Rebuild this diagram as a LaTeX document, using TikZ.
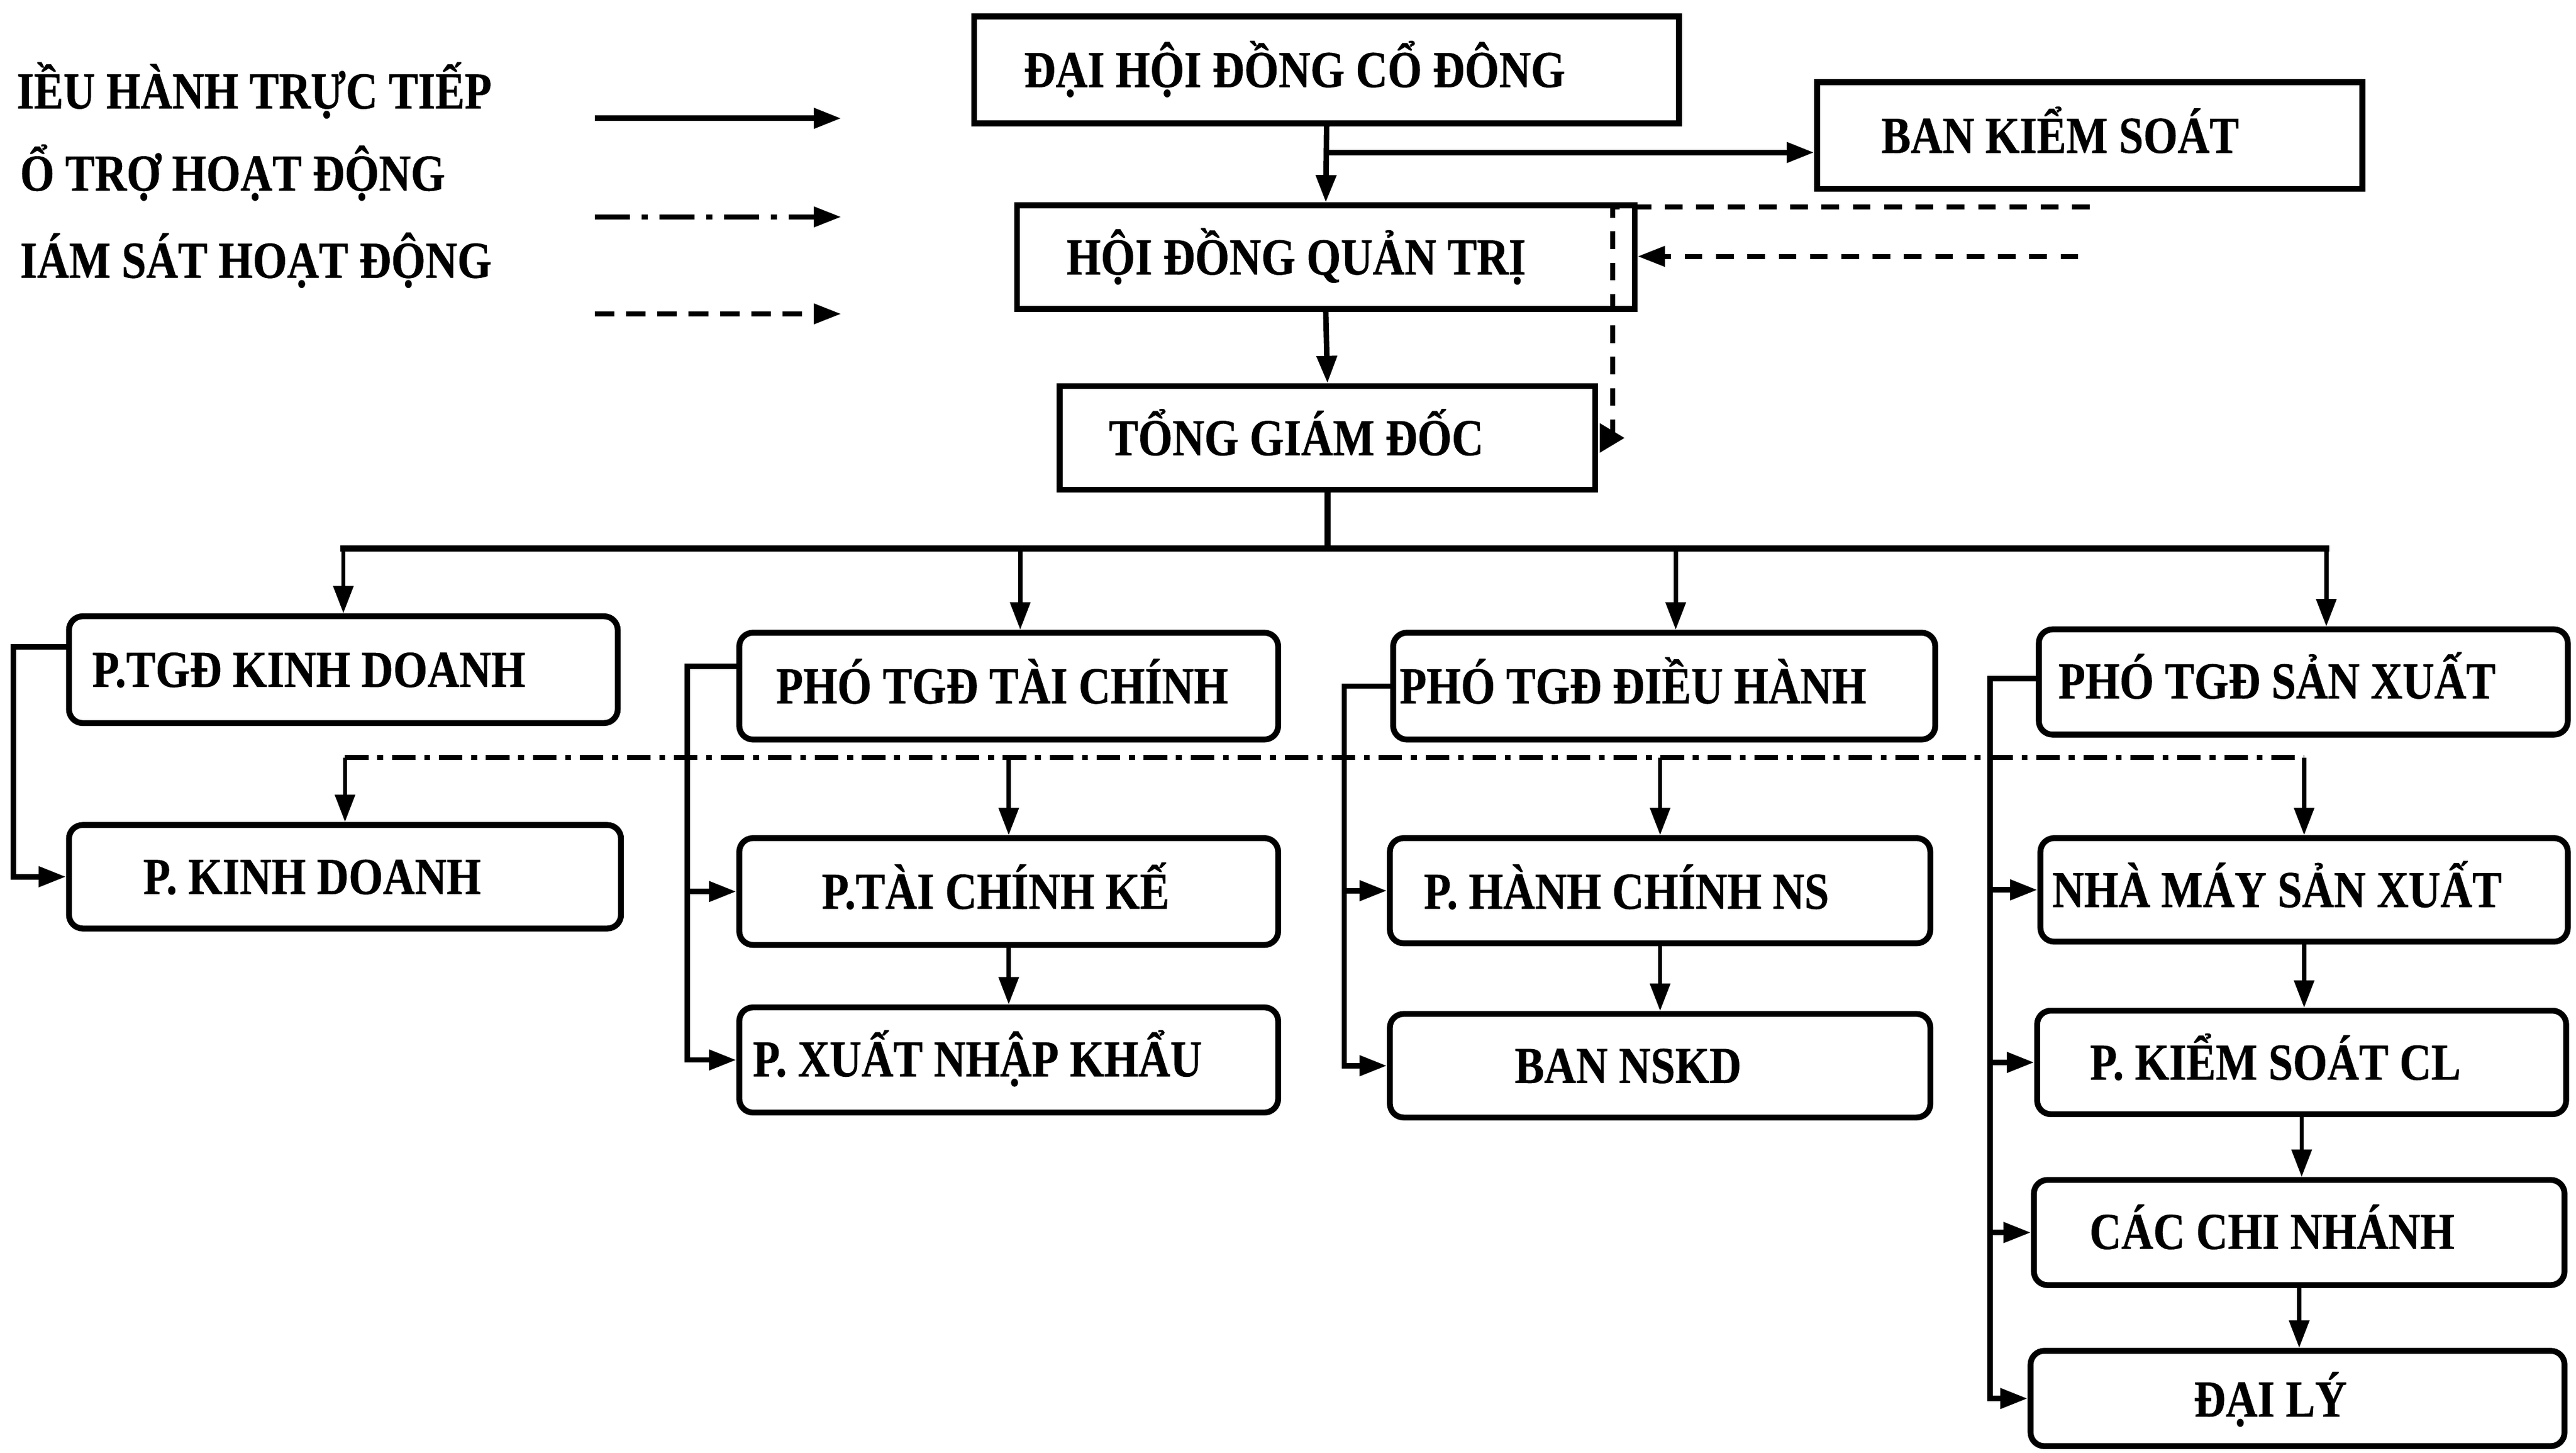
\documentclass[tikz,border=0pt]{standalone}
\usepackage{fontspec}
\setmainfont{Liberation Serif}[FakeStretch=0.85,FakeBold=0.5]
\usetikzlibrary{arrows.meta,calc}
\newcommand{\pxu}{0.029496cm}
\newcommand{\mkbox}[6]{\node[#1, minimum width={(#4-#3)*\pxu}, minimum height={(#6-#5)*\pxu}] (#2) at ({(#3+#4)/2},{(#5+#6)/2}) {};}
\begin{document}
\begin{tikzpicture}[x=\pxu, y=-\pxu,
 box/.style={draw, line width=3pt, inner sep=0pt},
 rbox/.style={box, rounded corners=7pt},
 lbl/.style={font=\fontsize{26.5}{30}\selectfont\bfseries, inner sep=0pt, anchor=base},
 tip/.style={-{Triangle[length=14pt,width=10pt]}},
 direct/.style={line width=2.8pt, tip},
 directthin/.style={line width=2.2pt, tip},
 busline/.style={line width=3pt, line cap=rect},
 support/.style={line width=2.6pt, dash pattern=on 12pt off 4.5pt on 3pt off 4.5pt},
 superv/.style={line width=2.6pt, dash pattern=on 9pt off 7pt}]
\useasboundingbox (0,0) rectangle (1568,884);

% boxes
\mkbox{box}{dh}{593}{1022}{10}{75}
\mkbox{box}{bks}{1106}{1438}{50}{115}
\mkbox{box}{hdqt}{619}{995}{125}{188}
\mkbox{box}{tgd}{645}{971}{235}{298}
\mkbox{rbox}{ptkd}{42}{376}{375}{440}
\mkbox{rbox}{pkd}{42}{378}{502}{565}
\mkbox{rbox}{ptc}{450}{778}{385}{450}
\mkbox{rbox}{ptck}{450}{778}{510}{575}
\mkbox{rbox}{pxnk}{450}{778}{613}{677}
\mkbox{rbox}{pdh}{848}{1178}{385}{450}
\mkbox{rbox}{phc}{846}{1175}{510}{574}
\mkbox{rbox}{bns}{846}{1175}{617}{680}
\mkbox{rbox}{psx}{1241}{1563}{383}{447}
\mkbox{rbox}{nmsx}{1242}{1563}{510}{573}
\mkbox{rbox}{kscl}{1240}{1562}{615}{678}
\mkbox{rbox}{ccn}{1238}{1561}{718}{782}
\mkbox{rbox}{dly}{1236}{1561}{822}{880}

% labels
\node[lbl] (dh-t) at (788,53) {ĐẠI HỘI ĐỒNG CỔ ĐÔNG};
\node[lbl] (bks-t) at (1254,93) {BAN KIỂM SOÁT};
\node[lbl] (hdqt-t) at (789,167) {HỘI ĐỒNG QUẢN TRỊ};
\node[lbl] (tgd-t) at (789,277) {TỔNG GIÁM ĐỐC};
\node[lbl] (ptkd-t) at (188,418) {P.TGĐ KINH DOANH};
\node[lbl] (pkd-t) at (190,544) {P. KINH DOANH};
\node[lbl] (ptc-t) at (610,428) {PHÓ TGĐ TÀI CHÍNH};
\node[lbl] (ptck-t) at (606,553) {P.TÀI CHÍNH KẾ};
\node[lbl] (pxnk-t) at (595,655) {P. XUẤT NHẬP KHẨU};
\node[lbl] (pdh-t) at (994,428) {PHÓ TGĐ ĐIỀU HÀNH};
\node[lbl] (phc-t) at (990,553) {P. HÀNH CHÍNH NS};
\node[lbl] (bns-t) at (991,659) {BAN NSKD};
\node[lbl] (psx-t) at (1386,425) {PHÓ TGĐ SẢN XUẤT};
\node[lbl] (nmsx-t) at (1386,552) {NHÀ MÁY SẢN XUẤT};
\node[lbl] (kscl-t) at (1385,657) {P. KIỂM SOÁT CL};
\node[lbl] (ccn-t) at (1383,760) {CÁC CHI NHÁNH};
\node[lbl] (dly-t) at (1382,862) {ĐẠI LÝ};

% legend
\node[lbl, anchor=base west] (lg1) at (10,66) {IỀU HÀNH TRỰC TIẾP};
\node[lbl, anchor=base west] (lg2) at (12,116) {Ổ TRỢ HOẠT ĐỘNG};
\node[lbl, anchor=base west] (lg3) at (12,169) {IÁM SÁT HOẠT ĐỘNG};
\coordinate (la1) at (362,72); \coordinate (lb1) at (512,72);
\coordinate (la2) at (362,132); \coordinate (lb2) at (512,132);
\coordinate (la3) at (362,191); \coordinate (lb3) at (512,191);
\draw[direct] (la1) -- (lb1);
\draw[line width=2.6pt, dash pattern=on 18pt off 6pt on 3pt off 6pt, tip] (la2) -- (lb2);
\draw[line width=2.6pt, dash pattern=on 10pt off 6pt, tip] (la3) -- (lb3);

% top chain
\draw[direct] (dh.south) -- (hdqt.north);
\coordinate (j1) at ($(dh.south)+(0,16)$);
\draw[direct] (j1) -- (j1 -| bks.west);
\draw[direct] (hdqt.south) -- (tgd.north);

% bus to deputies
\coordinate (bus) at ($(tgd.south)+(0,34)$);
\coordinate (ptcin) at ($(ptc.north)+(7,0)$);
\coordinate (pdhin) at ($(pdh.north)+(7,0)$);
\coordinate (psxin) at ($(psx.north)+(14,0)$);
\draw[busline] (tgd.south) -- (bus);
\draw[busline] (bus -| ptkd.north) -- (bus -| psxin);
\draw[directthin] (bus -| ptkd.north) -- (ptkd.north);
\draw[directthin] (bus -| ptcin) -- (ptcin);
\draw[directthin] (bus -| pdhin) -- (pdhin);
\draw[directthin] (bus -| psxin) -- (psxin);

% support line
\coordinate (sup) at (0,461);
\draw[support] (sup -| pkd.north) -- (sup -| nmsx.north);
\draw[directthin] (sup -| pkd.north) -- (pkd.north);
\draw[directthin] (sup -| ptck.north) -- (ptck.north);
\draw[directthin] (sup -| phc.north) -- (phc.north);
\draw[directthin] (sup -| nmsx.north) -- (nmsx.north);

% brackets
\coordinate (vkd) at ($(ptkd.west)+(-32,-14)$);
\draw[direct] ($(ptkd.west)+(0,-14)$) -- (vkd) |- (pkd.west);
\coordinate (vtc) at ($(ptc.west)+(-30,-12)$);
\draw[direct] ($(ptc.west)+(0,-12)$) -- (vtc) |- (pxnk.west);
\draw[direct] (vtc |- ptck.west) -- (ptck.west);
\coordinate (vdh) at ($(pdh.west)+(-28,0)$);
\draw[direct] (pdh.west) -- (vdh) |- (bns.west);
\draw[direct] (vdh |- phc.west) -- (phc.west);
\coordinate (vsx) at ($(psx.west)+(-28,-2)$);
\draw[direct] ($(psx.west)+(0,-2)$) -- (vsx) |- (dly.west);
\draw[direct] (vsx |- nmsx.west) -- (nmsx.west);
\draw[direct] (vsx |- kscl.west) -- (kscl.west);
\draw[direct] (vsx |- ccn.west) -- (ccn.west);

% vertical chains
\draw[directthin] (ptck.south) -- (ptck.south |- pxnk.north);
\draw[directthin] (phc.south) -- (phc.south |- bns.north);
\draw[directthin] (nmsx.south) -- (nmsx.south |- kscl.north);
\draw[directthin] (kscl.south) -- (kscl.south |- ccn.north);
\draw[directthin] (ccn.south) -- (ccn.south |- dly.north);

% supervision (dashed)
\coordinate (dA) at (1272,126);
\coordinate (kB) at ($(tgd.east)+(9,0)$);
\draw[superv] (dA) -- (dA -| kB) -- (kB);
\fill ($(tgd.east)+(1,-9)$) -- ++(15,9) -- ++(-15,9) -- cycle;
\coordinate (dB) at (1265,156);
\draw[superv, tip] (dB) -- (dB -| hdqt.east);
\end{tikzpicture}
\end{document}
